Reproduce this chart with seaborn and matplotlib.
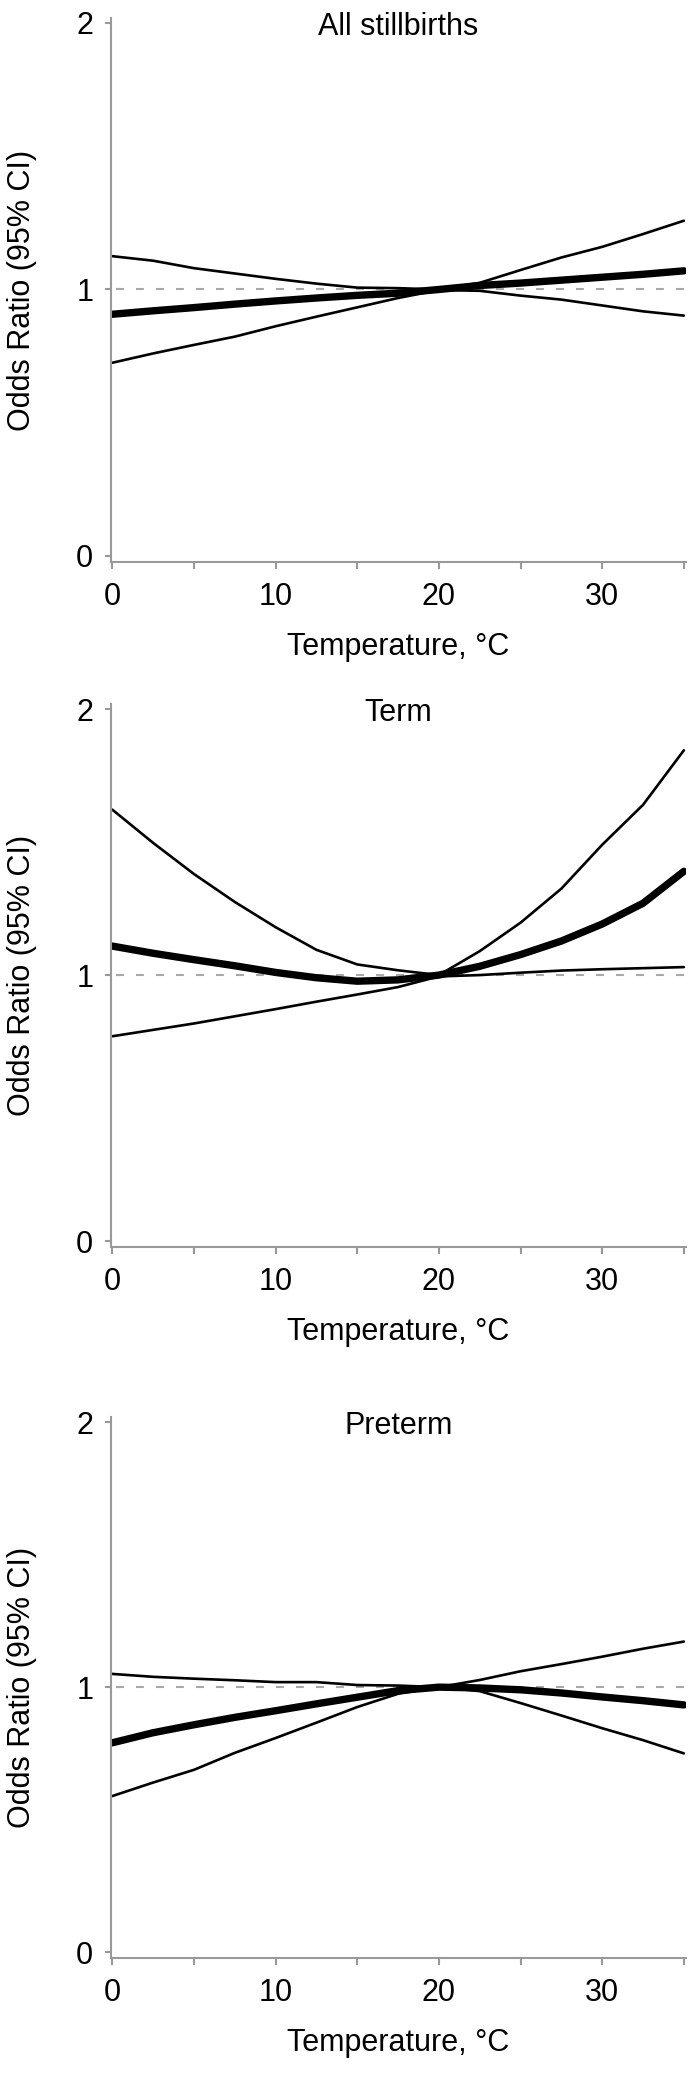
import matplotlib
matplotlib.use('Agg')
import matplotlib.pyplot as plt
import seaborn as sns

# temperature grid (deg C)
temps = [0, 2.5, 5, 7.5, 10, 12.5, 15, 17.5, 20, 22.5, 25, 27.5, 30, 32.5, 35]

titles = ['All stillbirths', 'Term', 'Preterm']

# odds ratios
all_or = [0.907, 0.92, 0.932, 0.945, 0.957, 0.968, 0.978, 0.986, 1.0, 1.015, 1.024, 1.035, 1.046, 1.057, 1.07]
all_upper = [1.125, 1.108, 1.08, 1.06, 1.04, 1.022, 1.007, 1.005, 1.0, 1.025, 1.073, 1.12, 1.16, 1.208, 1.258]
all_lower = [0.725, 0.76, 0.792, 0.823, 0.862, 0.898, 0.933, 0.968, 0.998, 0.995, 0.977, 0.962, 0.94, 0.918, 0.902]

term_or = [1.109, 1.082, 1.058, 1.035, 1.01, 0.99, 0.977, 0.982, 1.0, 1.033, 1.077, 1.128, 1.192, 1.27, 1.39]
term_upper = [1.622, 1.497, 1.38, 1.275, 1.18, 1.095, 1.04, 1.018, 1.0, 1.09, 1.197, 1.325, 1.49, 1.64, 1.845]
term_lower = [0.77, 0.794, 0.818, 0.845, 0.872, 0.9, 0.927, 0.955, 0.995, 1.0, 1.009, 1.017, 1.022, 1.026, 1.03]

pre_or = [0.79, 0.828, 0.858, 0.886, 0.911, 0.937, 0.962, 0.987, 1.0, 0.997, 0.99, 0.978, 0.963, 0.949, 0.933]
pre_upper = [1.05, 1.039, 1.032, 1.026, 1.019, 1.019, 1.008, 1.006, 1.0, 1.027, 1.06, 1.087, 1.115, 1.145, 1.172]
pre_lower = [0.589, 0.64, 0.688, 0.752, 0.808, 0.866, 0.925, 0.975, 1.0, 0.985, 0.94, 0.893, 0.845, 0.8, 0.75]

panels = [
    (all_or, all_upper, all_lower),
    (term_or, term_upper, term_lower),
    (pre_or, pre_upper, pre_lower),
]

sns.set_style('ticks')
plt.rcParams['font.family'] = ['Liberation Sans', 'DejaVu Sans']
plt.rcParams['text.color'] = 'black'
plt.rcParams['axes.labelcolor'] = 'black'
plt.rcParams['xtick.color'] = 'black'
plt.rcParams['ytick.color'] = 'black'

fig = plt.figure(figsize=(6.96, 20.76), dpi=100)

# axes boxes [left, bottom, width, height] in figure fraction
boxes = [
    [0.159, 0.7291, 0.8266, 0.2624],
    [0.159, 0.3991, 0.8266, 0.2619],
    [0.159, 0.0566, 0.8266, 0.2609],
]

grey = '#999999'

for i, (est, up, lo) in enumerate(panels):
    ax = fig.add_axes(boxes[i])
    h_px = boxes[i][3] * 2076
    ax.axhline(1, xmin=0.01, xmax=1, color='#a8a8a8', lw=1.5, dashes=(3.8, 5.8), zorder=1)
    sns.lineplot(x=temps, y=up, ax=ax, color='black', lw=1.9)
    sns.lineplot(x=temps, y=lo, ax=ax, color='black', lw=1.9)
    sns.lineplot(x=temps, y=est, ax=ax, color='black', lw=5.3)

    ax.set_xlim(-0.1, 35.13)
    ax.set_ylim(-0.024, 2.02)
    ax.set_xticks([0, 5, 10, 15, 20, 25, 30, 35])
    ax.set_xticklabels(['0', '', '10', '', '20', '', '30', ''])
    ax.set_yticks([0, 1, 2])
    ax.set_yticklabels(['0', '1', '2'])
    ax.tick_params(axis='x', length=5, width=1.5, color=grey, pad=9, labelsize=22)
    ax.tick_params(axis='y', length=4.5, width=1.5, color=grey, pad=8, labelsize=22)

    for side in ['top', 'right']:
        ax.spines[side].set_visible(False)
    for side in ['left', 'bottom']:
        ax.spines[side].set_color(grey)
        ax.spines[side].set_linewidth(1.5)

    ax.set_ylabel('Odds Ratio (95% CI)', fontsize=22)
    ax.yaxis.set_label_coords(-0.128, 0.5)
    ax.set_xlabel('Temperature, \u00b0C', fontsize=22)
    ax.xaxis.set_label_coords(0.5, -70 / h_px)

    ax.text(0.5, 1 - 9.5 / h_px, titles[i], transform=ax.transAxes,
            ha='center', va='center', fontsize=22)

plt.savefig('out.png', dpi=100)
